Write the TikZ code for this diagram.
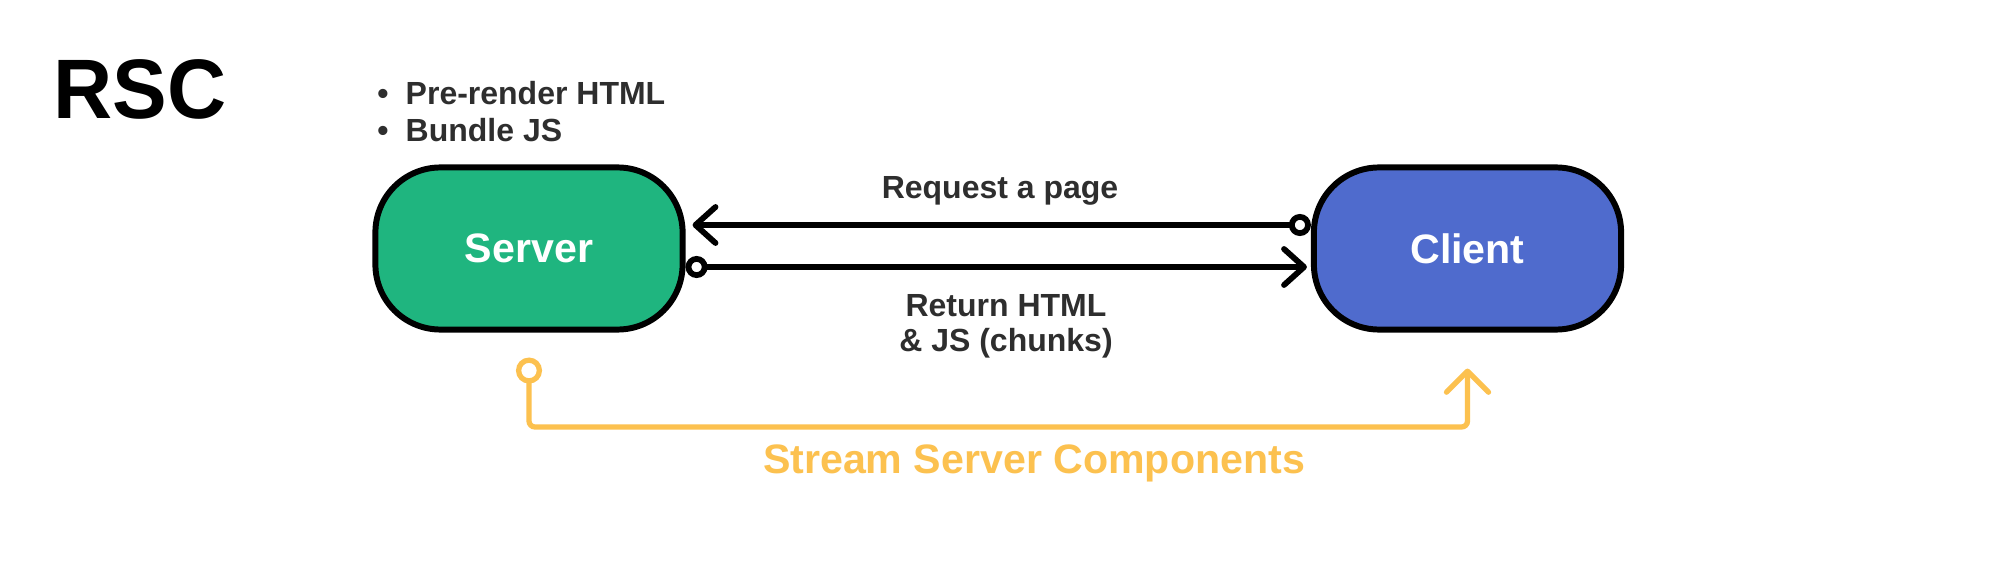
\documentclass[tikz,border=0pt]{standalone}
\usepackage{fontspec}
\setmainfont{Liberation Sans}
\usetikzlibrary{arrows.meta,calc}
\definecolor{srvgreen}{HTML}{1FB57F}
\definecolor{cliblue}{HTML}{4F6BCD}
\definecolor{streamyellow}{HTML}{FCC14F}
\definecolor{txtgray}{HTML}{2E2E2E}
\begin{document}
\begin{tikzpicture}[x=0.01cm,y=-0.01cm,
  box/.style={draw=black, line width=1.7pt, rounded corners=0.65cm,
    minimum width=3.07cm, minimum height=1.62cm, inner sep=0pt, text=white,
    font=\fontsize{11.7pt}{14pt}\selectfont\bfseries},
  body/.style={inner sep=0pt, text=txtgray, font=\fontsize{9.1pt}{9.96pt}\selectfont\bfseries},
  titletxt/.style={inner sep=0pt, text=black, font=\fontsize{24pt}{30pt}\selectfont\bfseries},
  streamtxt/.style={inner sep=0pt, text=streamyellow, font=\fontsize{11.7pt}{14pt}\selectfont\bfseries},
  conn/.style={draw=black, line width=1.65pt, line cap=round,
    {Circle[fill=white,length=0.22cm]}-{Straight Barb[length=0.2cm,width=0.36cm,round]}},
  stream/.style={draw=streamyellow, line width=1.5pt, line cap=round, rounded corners=0.06cm,
    {Circle[fill=white,length=0.26cm]}-{Straight Barb[length=0.21cm,width=0.42cm,round]}}
]
\useasboundingbox[fill=white] (0,0) rectangle (2000,585);

% title and notes
\node[titletxt, anchor=base west] (rsc) at (53,119) {\scalebox{0.97}[1]{RSC}};
\node[body, anchor=base] (b1) at (383,105) {•};
\node[body, anchor=base west] (l1) at (405,105) {Pre-render HTML};
\node[body, anchor=base] (b2) at (383,142) {•};
\node[body, anchor=base west] (l2) at (405,142) {Bundle JS};

% boxes
\node[box, fill=srvgreen] (server) at (529,248.5) {Server};
\node[box, fill=cliblue] (client) at (1467.5,248.5) {Client};

% connectors
\draw[conn] (client.west |- 0,225) -- ($(server.east |- 0,225)+(7,0)$);
\draw[conn] (server.east |- 0,267) -- ($(client.west |- 0,267)+(-4,0)$);

\node[body, anchor=base] (req) at (1000,199) {Request a page};
\node[body, align=center] (ret) at (1006,326.5) {Return HTML\\\& JS (chunks)};

% stream path
\coordinate (ylow) at (0,427);
\draw[stream, shorten <=0.25cm, shorten >=0.36cm] (server.south) |- (ylow -| client.south) -- (client.south);
\node[streamtxt, anchor=base] (st) at (1034,473) {Stream Server Components};
\end{tikzpicture}
\end{document}
